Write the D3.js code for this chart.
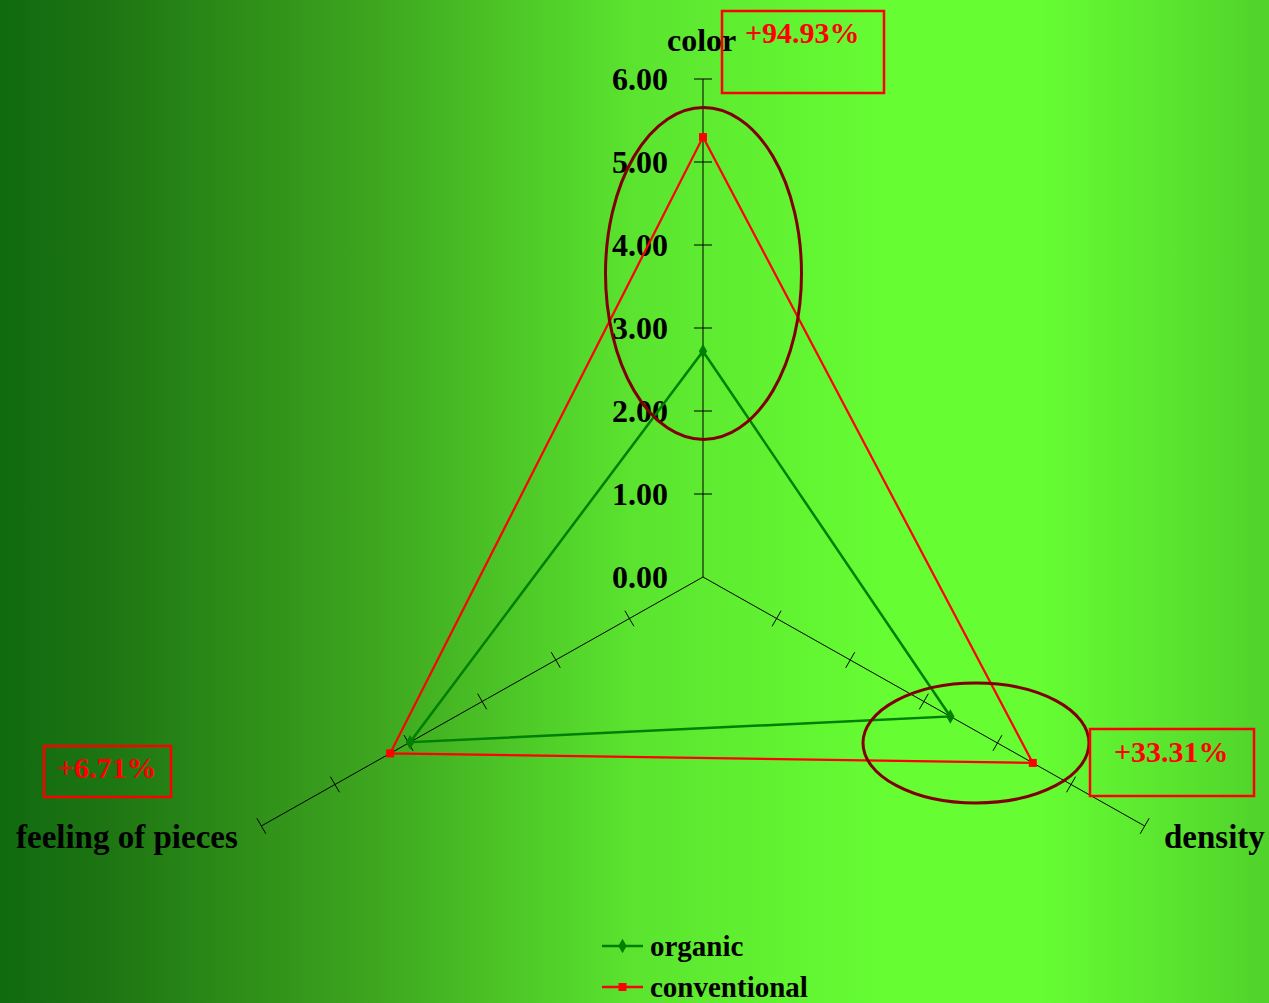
<!DOCTYPE html>
<html>
<head>
<meta charset="utf-8">
<script src="https://cdn.jsdelivr.net/npm/d3@7"></script>
<style>
html,body{margin:0;padding:0;overflow:hidden;}
svg{display:block;}
text{font-family:"Liberation Serif","Times New Roman",serif;font-weight:bold;}
</style>
</head>
<body>
<svg id="chart" width="1269" height="1003"></svg>
<script>
// ---- data ----
const axes = ["color", "density", "feeling of pieces"];
const seriesNames = ["organic", "conventional"];
const organic = [2.72, 3.36, 3.98];
const conventional = [5.30, 4.48, 4.25];
const tickValues = [0, 1, 2, 3, 4, 5, 6];
const tickLabels = ["0.00", "1.00", "2.00", "3.00", "4.00", "5.00", "6.00"];
const diffLabels = ["+94.93%", "+33.31%", "+6.71%"];

const W = 1269, H = 1003;
const svg = d3.select("#chart");

// background gradient
const defs = svg.append("defs");
const grad = defs.append("linearGradient").attr("id", "bg").attr("x1", "0").attr("x2", "1").attr("y1", "0").attr("y2", "0");
[[0, "#106a0f"], [0.08, "#1d7412"], [0.3, "#3ea71f"], [0.5, "#5be42f"], [0.7, "#66fd33"], [0.82, "#66fd33"], [1, "#50d22b"]]
  .forEach(([o, c]) => grad.append("stop").attr("offset", o).attr("stop-color", c));
svg.append("rect").attr("width", W).attr("height", H).attr("fill", "url(#bg)");

// geometry
const cx = 703, cy = 577;
const rY = d3.scaleLinear().domain([0, 6]).range([0, 498]);   // vertical unit
const rX = d3.scaleLinear().domain([0, 6]).range([0, 510]);   // horizontal unit (slightly stretched)
const angles = [-90, 30, 150].map(a => a * Math.PI / 180);
function pt(i, v) {
  return [cx + rX(v) * Math.cos(angles[i]), cy + rY(v) * Math.sin(angles[i])];
}

const g = svg.append("g");

// axes lines
axes.forEach((a, i) => {
  const [x2, y2] = pt(i, 6);
  g.append("line").attr("x1", cx).attr("y1", cy).attr("x2", x2).attr("y2", y2)
    .attr("stroke", "#000").attr("stroke-width", 1);
  tickValues.filter(t => t > 0).forEach(t => {
    const [px, py] = pt(i, t);
    let dx, dy;
    if (i === 0) { dx = 9; dy = 0; }
    else {
      const ux = Math.cos(angles[i]), uy = Math.sin(angles[i]);
      dx = -uy * 9; dy = ux * 9;
    }
    g.append("line").attr("x1", px - dx).attr("y1", py - dy).attr("x2", px + dx).attr("y2", py + dy)
      .attr("stroke", "#000").attr("stroke-width", 1);
  });
});

// tick labels on vertical axis
g.selectAll(".tl").data(tickValues).enter().append("text")
  .attr("x", 668).attr("y", d => cy - rY(d) + 11)
  .attr("text-anchor", "end").attr("font-size", 32)
  .attr("fill", "#000").text((d, i) => tickLabels[i]);

// axis labels
g.append("text").attr("x", 667).attr("y", 51).attr("font-size", 32).text(axes[0]);
g.append("text").attr("x", 1164).attr("y", 848).attr("font-size", 33).text(axes[1]);
g.append("text").attr("x", 16).attr("y", 848).attr("font-size", 33).text(axes[2]);

// series
const line = d3.line().curve(d3.curveLinearClosed);
const colors = ["#008000", "#ff0000"];
const data = [organic, conventional];
data.forEach((vals, s) => {
  const pts = vals.map((v, i) => pt(i, v));
  g.append("path").attr("d", line(pts)).attr("fill", "none")
    .attr("stroke", colors[s]).attr("stroke-width", s === 0 ? 2.5 : 2.2);
  pts.forEach(([x, y]) => {
    if (s === 0) {
      g.append("path").attr("d", d3.symbol(d3.symbolDiamond, 60)()).attr("transform", `translate(${x},${y})`).attr("fill", colors[s]);
    } else {
      g.append("rect").attr("x", x - 4).attr("y", y - 4).attr("width", 8).attr("height", 8).attr("fill", colors[s]);
    }
  });
});

// highlight ellipses
g.append("ellipse").attr("cx", 703.5).attr("cy", 273.5).attr("rx", 98).attr("ry", 166)
  .attr("fill", "none").attr("stroke", "#800000").attr("stroke-width", 3);
g.append("ellipse").attr("cx", 976).attr("cy", 743).attr("rx", 113).attr("ry", 60)
  .attr("fill", "none").attr("stroke", "#800000").attr("stroke-width", 3);

// difference boxes
const boxes = [
  {x: 722, y: 11, w: 162, h: 82, tx: 745, ty: 43},
  {x: 1090, y: 729, w: 164, h: 67, tx: 1114, ty: 762},
  {x: 44, y: 746, w: 127, h: 51, tx: 57, ty: 778}
];
boxes.forEach((b, i) => {
  g.append("rect").attr("x", b.x).attr("y", b.y).attr("width", b.w).attr("height", b.h)
    .attr("fill", "none").attr("stroke", "#ff0000").attr("stroke-width", 2.5);
  g.append("text").attr("x", b.tx).attr("y", b.ty).attr("font-size", 30)
    .attr("fill", "#ff0000").text(diffLabels[i]);
});

// legend
seriesNames.forEach((n, s) => {
  const y = 946 + s * 41;
  g.append("line").attr("x1", 602).attr("x2", 643).attr("y1", y).attr("y2", y)
    .attr("stroke", colors[s]).attr("stroke-width", 2.5);
  if (s === 0) {
    g.append("path").attr("d", d3.symbol(d3.symbolDiamond, 60)()).attr("transform", `translate(622.5,${y})`).attr("fill", colors[s]);
  } else {
    g.append("rect").attr("x", 618.5).attr("y", y - 4).attr("width", 8).attr("height", 8).attr("fill", colors[s]);
  }
  g.append("text").attr("x", 650).attr("y", y + 10).attr("font-size", 29)
    .attr("fill", "#000").text(n);
});
</script>
</body>
</html>
